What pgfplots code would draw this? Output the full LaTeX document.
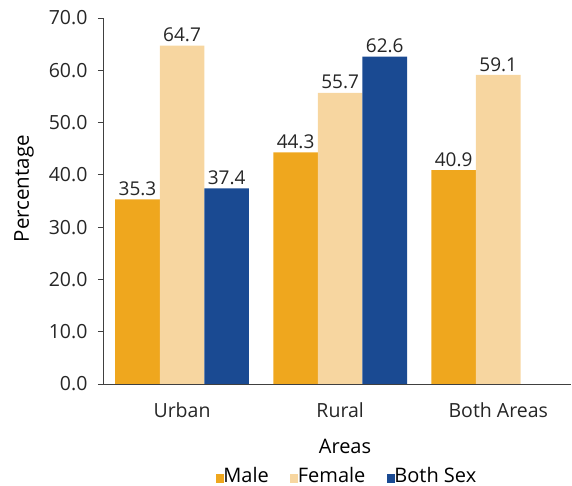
\documentclass[border=0pt]{standalone}
\usepackage{fontspec}
\setmainfont{Open Sans}
\usepackage{pgfplots}
\pgfplotsset{compat=1.18}
\definecolor{cMale}{RGB}{239,167,30}
\definecolor{cFemale}{RGB}{247,214,160}
\definecolor{cBoth}{RGB}{26,74,146}
\definecolor{axgray}{RGB}{64,64,64}
\begin{document}
\begin{tikzpicture}[x=1pt,y=1pt]
\begin{axis}[
  scale only axis,
  width=468pt, height=366pt,
  xmin=-0.5, xmax=2.46,
  ymin=0, ymax=70,
  ytick={0,10,...,70},
  xtick={0,1,2},
  xticklabels={Urban,Rural,Both Areas},
  major x tick style={draw=none},
  extra x ticks={-0.5,0.5,1.5},
  extra x tick labels={},
  extra x tick style={major tick length=5pt, tick style={draw=axgray}},
  axis x line=bottom, axis y line=left,
  axis line style={draw=axgray, line width=0.9pt, -},
  tick style={draw=axgray, line width=0.9pt},
  tick align=outside,
  major tick length=5pt,
  y tick label style={/pgf/number format/fixed, /pgf/number format/fixed zerofill, /pgf/number format/precision=1},
  /pgf/number format/assume math mode=true,
  tick label style={font=\fontsize{19.5}{21}\selectfont, text=black!85},
  yticklabel style={xshift=-7pt},
  xticklabel style={yshift=-10pt, font=\fontsize{19.5}{21}\selectfont},
  xlabel={Areas},
  ylabel={Percentage},
  xlabel style={font=\fontsize{20}{22}\selectfont, yshift=-5pt, xshift=8pt},
  ylabel style={font=\fontsize{20.5}{22}\selectfont, at={(axis description cs:-0.169,0.534)}, anchor=center},
  ybar=0pt,
  bar width=0.282,
  nodes near coords,
  every node near coord/.append style={font=\fontsize{19}{21}\selectfont, text=black!85, /pgf/number format/fixed, /pgf/number format/fixed zerofill, /pgf/number format/precision=1, /pgf/number format/assume math mode=true},
  legend columns=3,
  legend style={draw=none, at={(0.521,-0.219)}, anchor=north, font=\fontsize{20}{22}\selectfont, nodes={inner xsep=1.5pt, inner ysep=1pt}, /tikz/every odd column/.append style={column sep=-2pt}, /tikz/every even column/.append style={column sep=20pt}},
  legend image code/.code={\draw[#1,draw=none] (0pt,-7pt) rectangle (8pt,2pt);},
]
\addplot[fill=cMale, draw=none, bar shift=-0.282] coordinates {(0,35.3) (1,44.3) (2,40.9)};
\addplot[fill=cFemale, draw=none, bar shift=0] coordinates {(0,64.7) (1,55.7) (2,59.1)};
\addplot[fill=cBoth, draw=none, bar shift=0.282] coordinates {(0,37.4) (1,62.6)};
\legend{Male,Female,Both Sex}
\end{axis}
\pgfresetboundingbox
\path (-103pt,-102pt) rectangle (469pt,384pt);
\end{tikzpicture}
\end{document}
